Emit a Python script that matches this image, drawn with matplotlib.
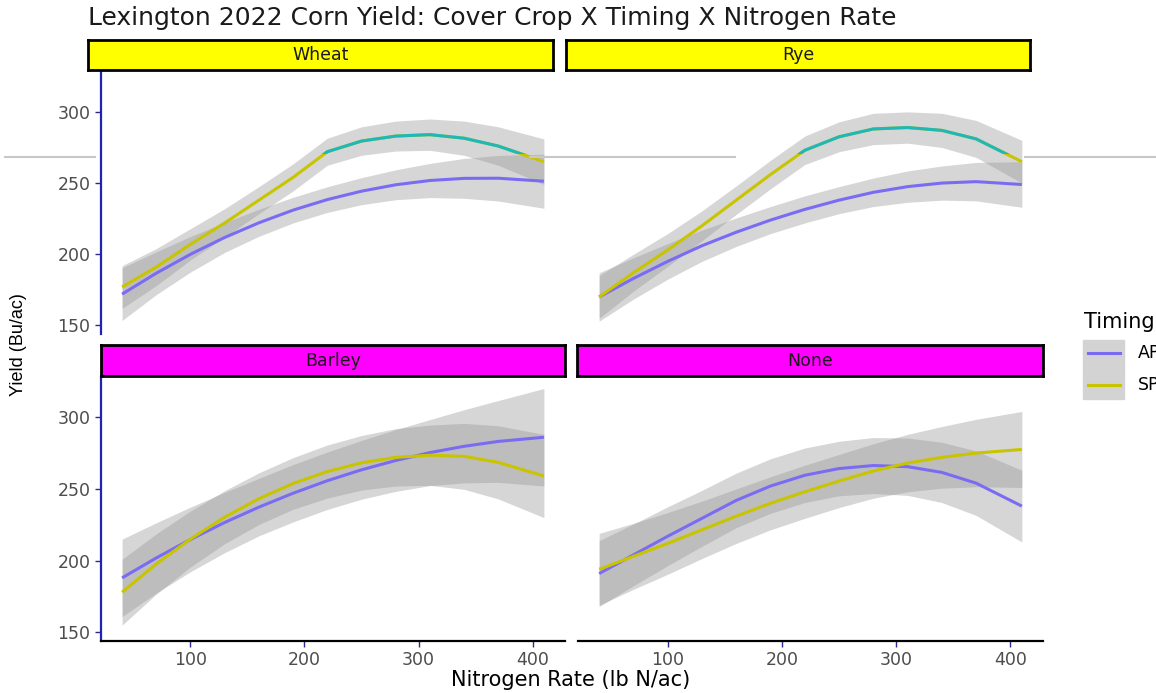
import numpy as np
import matplotlib.pyplot as plt
from matplotlib.lines import Line2D
from matplotlib.patches import Rectangle

plt.rcParams['font.family'] = ['DejaVu Sans']

# nitrogen rates along the fitted curves (lb N/ac)
nrate = [40, 70, 100, 130, 160, 190, 220, 250, 280, 310, 340, 370, 410]

# fitted yield (Bu/ac) and half-width of the ribbon
ap_wheat = [172, 186.7, 200, 211.8, 222.1, 231, 238.4, 244.3, 248.8, 251.8, 253.3, 253.4, 251.3]
ap_wheat_se = [18.5, 15, 12.5, 10.5, 9.5, 9, 9, 9.5, 10.5, 12, 14, 16, 19]
sp_wheat = [177, 191, 207, 222, 238, 254, 272, 279.5, 283, 284, 281.5, 276, 265]
sp_wheat_se = [15, 13, 11, 10, 9.5, 9.5, 9.5, 10, 10.5, 11, 12, 13.5, 16]

ap_rye = [170, 183, 195, 206, 215.5, 224, 231.5, 238, 243.5, 247.5, 250, 251, 249]
ap_rye_se = [17, 14.5, 12.5, 11, 10, 9.5, 9.5, 9.5, 10, 11, 12, 13.5, 16]
sp_rye = [170, 187, 203, 220, 238, 256, 273, 282.5, 288, 289, 287, 281, 265]
sp_rye_se = [15, 13, 11.5, 10.5, 10, 10, 10, 10.5, 11, 11, 12, 13, 15]

ap_barley = [188, 201.9, 214.8, 226.6, 237.3, 247, 255.7, 263.3, 269.8, 275.3, 279.7, 283.1, 286]
ap_barley_se = [27, 24.5, 22.5, 21, 20, 20, 20, 20.5, 21.5, 23, 25.5, 28.5, 34]
sp_barley = [178, 197.7, 215.1, 230.3, 243.2, 253.8, 262.1, 268.2, 272, 273.5, 272.7, 268.5, 259]
sp_barley_se = [23, 21, 19.5, 18.5, 18, 18, 18.5, 19, 20, 21, 23, 25.5, 29]

ap_none = [191, 204, 217, 229.5, 242, 252, 259.5, 264.2, 266.3, 265.5, 261.5, 254, 238]
ap_none_se = [23, 21.5, 20.5, 19.5, 19, 19, 19, 19, 19.5, 20, 21, 22.5, 25]
sp_none = [194, 203, 212, 221.5, 231, 240, 248, 255.5, 262.5, 268, 272, 275, 277.5]
sp_none_se = [25, 23, 21.5, 20, 19, 18.5, 18.5, 18.5, 19, 20, 21.5, 23.5, 26.5]

crops = ["Wheat", "Rye", "Barley", "None"]
ap_fit = [ap_wheat, ap_rye, ap_barley, ap_none]
ap_se = [ap_wheat_se, ap_rye_se, ap_barley_se, ap_none_se]
sp_fit = [sp_wheat, sp_rye, sp_barley, sp_none]
sp_se = [sp_wheat_se, sp_rye_se, sp_barley_se, sp_none_se]

timing = ["AP", "SP"]
yticks = [150, 200, 250, 300]
xticks = [100, 200, 300, 400]

AP_COL = "#7A6CF2"
SP_COL = "#C9C400"
CUT_COL = "#1FB8B8"
BAND = "#999999"
TXT = "#4D4D4D"

W, H = 1156, 693


def box(x0, y0, x1, y1):
    return [x0 / W, 1 - y1 / H, (x1 - x0) / W, (y1 - y0) / H]


fig = plt.figure(figsize=(W / 100, H / 100), dpi=100)

# panel box, strip box, strip colour
layout = [
    ((101, 72, 565, 334), (88, 40, 553, 70), "#FFFF00"),
    ((578, 72, 1043, 334), (566, 40, 1030, 70), "#FFFF00"),
    ((101, 377, 565, 641), (101, 345, 565, 376), "#FF00FF"),
    ((578, 377, 1043, 641), (577, 345, 1043, 376), "#FF00FF"),
]

for i, crop in enumerate(crops):
    pbox, sbox, scol = layout[i]
    ax = fig.add_axes(box(*pbox))
    x = np.array(nrate)
    for fit, se in [(ap_fit[i], ap_se[i]), (sp_fit[i], sp_se[i])]:
        f = np.array(fit)
        s = np.array(se)
        ax.fill_between(x, f - s, f + s, color=BAND, alpha=0.4, lw=0)
    ax.plot(x, ap_fit[i], color=AP_COL, lw=2.2, solid_capstyle='butt')
    ax.plot(x, sp_fit[i], color=SP_COL, lw=2.2, solid_capstyle='butt')
    if i < 2:
        # the top row picture has the upper part of the SP curve in teal
        hi, = ax.plot(x, sp_fit[i], color=CUT_COL, lw=2.2, solid_capstyle='butt')
        hi.set_clip_path(Rectangle((0, 270.5), 500, 100, transform=ax.transData))

    ax.set_xlim(21.5, 428.5)
    ax.set_ylim(144, 328)
    for sp in ax.spines.values():
        sp.set_visible(False)
    ax.set_xticks(xticks)
    ax.set_yticks(yticks)
    ax.tick_params(colors="#2a2a90", labelcolor=TXT, labelsize=12.5, length=4, width=1)
    if i % 2 == 0:
        ax.spines['left'].set_visible(True)
        ax.spines['left'].set_color("#2222B0")
        ax.spines['left'].set_linewidth(1.6)
    else:
        ax.tick_params(axis='y', left=False, labelleft=False)
    if i >= 2:
        ax.spines['bottom'].set_visible(True)
        ax.spines['bottom'].set_color("black")
        ax.spines['bottom'].set_linewidth(1.6)
    else:
        ax.tick_params(axis='x', bottom=False, labelbottom=False)

    sax = fig.add_axes(box(*sbox))
    sax.set_facecolor(scol)
    sax.set_xticks([])
    sax.set_yticks([])
    for sp in sax.spines.values():
        sp.set_linewidth(2)
        sp.set_color("black")
    sax.text(0.5, 0.5, crop, ha='center', va='center', fontsize=12.5, color="#1a1a1a",
             transform=sax.transAxes)

fig.text(88 / W, 1 - 18 / H, "Lexington 2022 Corn Yield: Cover Crop X Timing X Nitrogen Rate",
         fontsize=18, ha='left', va='center', color="#1a1a1a")
fig.text(571 / W, 1 - 680 / H, "Nitrogen Rate (lb N/ac)", fontsize=15, ha='center', va='center')
fig.text(19 / W, 1 - 345 / H, "Yield (Bu/ac)", fontsize=13, ha='center', va='center',
         rotation=90, family='Liberation Sans')

# stray grey line across the top row of the picture
for x0, x1 in [(5, 95), (530, 735), (1025, 1156)]:
    fig.add_artist(Line2D([x0 / W, x1 / W], [1 - 157 / H, 1 - 157 / H],
                          color="#c8c8c8", lw=1.5))

# legend (cut by the right edge, as in the picture)
fig.text(1084 / W, 1 - 322 / H, "Timing", fontsize=15, ha='left', va='center')
fig.add_artist(Rectangle((1083 / W, 1 - 399 / H), 41 / W, 59 / H, color="#d3d3d3",
                         transform=fig.transFigure))
for t, col, yy in zip(timing, [AP_COL, SP_COL], [353, 385]):
    fig.add_artist(Line2D([1088 / W, 1120 / W], [1 - yy / H, 1 - yy / H], color=col, lw=2.2))
    fig.text(1138 / W, 1 - yy / H, t, fontsize=12.5, ha='left', va='center')

fig.savefig("out.png", dpi=100, facecolor="white")
